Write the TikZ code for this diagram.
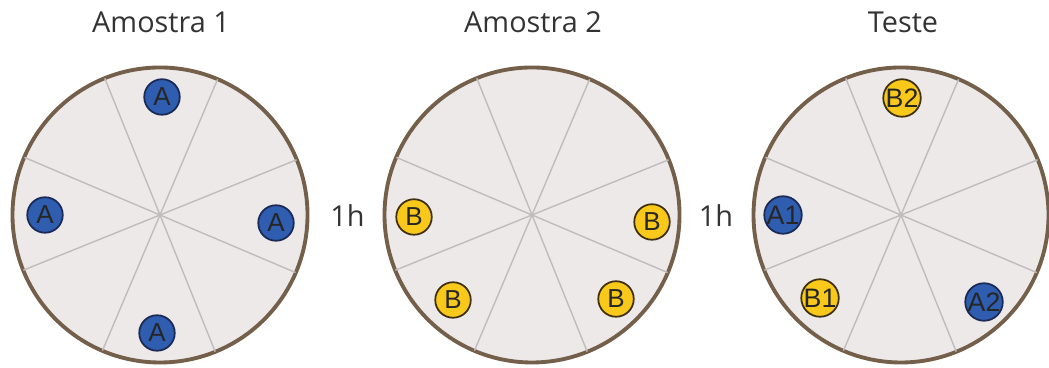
\documentclass[tikz,border=0pt]{standalone}
\usepackage{fontspec}
\setmainfont{Open Sans}
\newfontfamily\marcafont{Liberation Sans}
\usetikzlibrary{positioning}

\definecolor{borda}{HTML}{74604A}
\definecolor{fundo}{HTML}{EEE9E9}
\definecolor{raio}{HTML}{BEBCBC}
\definecolor{azul}{HTML}{2F5DB0}
\definecolor{azulborda}{HTML}{1B2A55}
\definecolor{amarelo}{HTML}{F8C81A}
\definecolor{amareloborda}{HTML}{3F3012}

\tikzset{
  arena/.style={circle, draw=borda, line width=1.1pt, fill=fundo,
    minimum size=2.95cm, inner sep=0pt},
  marca/.style={circle, line width=0.5pt, minimum size=0.355cm,
    inner sep=0pt, font=\marcafont\fontsize{7.4}{7.4}\selectfont, text=black!85},
  objA/.style={marca, draw=azulborda, fill=azul},
  objB/.style={marca, draw=amareloborda, fill=amarelo},
  dupla/.style={font=\marcafont\fontsize{7.6}{7.6}\selectfont},
  titulo/.style={anchor=base, font=\fontsize{8.2}{10}\selectfont, text=black!80},
}

\begin{document}
\begin{tikzpicture}

\useasboundingbox
(0,0)
rectangle
(10.49,3.68);

% Arenas
\node[arena] (arena1) at (1.60,1.53) {};
\node[arena] (arena2) at (5.32,1.53) {};
\node[arena] (arena3) at (9.01,1.53) {};

% Divisoes
\foreach \n in {1,2,3}
  \foreach \a in {22.5,67.5,...,337.5}
    \draw[raio, line width=0.4pt, shorten >=0.6pt]
    (arena\n.center)
    --
    (arena\n.\a);

% Titulos
\node[titulo] (tit1) at (1.61,3.35) {Amostra 1};
\node[titulo] (tit2) at (5.33,3.35) {Amostra 2};
\node[titulo] (tit3) at (9.03,3.35) {Teste};

% Intervalos
\node[titulo] (int1) at (3.475,1.41) {1h};
\node[titulo] (int2) at (7.16,1.41) {1h};

% Amostra 1
\node[objA] (a1n) at (1.62,2.71) {A};
\node[objA] (a1w) at (0.45,1.53) {A};
\node[objA] (a1e) at (2.76,1.45) {A};
\node[objA] (a1s) at (1.57,0.35) {A};

% Amostra 2
\node[objB] (b2w) at (4.14,1.51) {B};
\node[objB] (b2e) at (6.52,1.46) {B};
\node[objB] (b2sw) at (4.53,0.68) {B};
\node[objB] (b2se) at (6.16,0.69) {B};

% Teste
\node[objB, dupla] (t3n) at (9.02,2.70) {B2};
\node[objA, dupla] (t3w) at (7.83,1.53) {A1};
\node[objB, dupla] (t3sw) at (8.20,0.70) {B1};
\node[objA, dupla] (t3se) at (9.84,0.66) {A2};

\end{tikzpicture}
\end{document}
